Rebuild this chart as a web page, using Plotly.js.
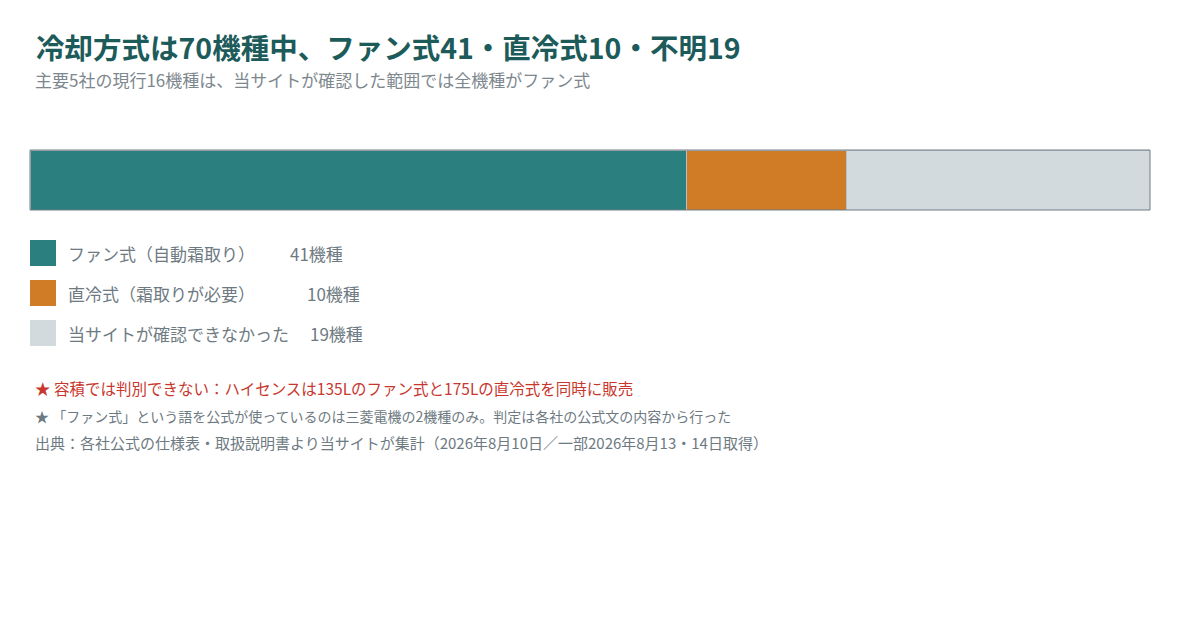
<!DOCTYPE html>
<html>
<head>
<meta charset="utf-8">
<script src="https://cdn.plot.ly/plotly-3.0.1.min.js"></script>
<style>
  html, body { margin: 0; padding: 0; background: #fff; }
  #chart { width: 1180px; height: 620px; }
</style>
</head>
<body>
<div id="chart"></div>
<script>
let categories = ["ファン式（自動霜取り）", "直冷式（霜取りが必要）", "当サイトが確認できなかった"];
let counts = [41, 10, 19];
let colors = ["#2b7f7e", "#d07b26", "#d2dadd"];
let count_x = [288, 305, 308]; // px where the count label starts in each legend row

let W = 1180, H = 620;
let FONT = "Noto Sans CJK JP, Noto Sans, sans-serif";
let GREY = "#6e7a82";

function px(x) { return x / W; }
function py(y) { return 1 - y / H; }

let total = counts.reduce(function (a, b) { return a + b; }, 0);

let data = categories.map(function (c, i) {
    return {
        type: "bar",
        orientation: "h",
        y: ["all"],
        x: [counts[i]],
        name: c,
        marker: { color: colors[i], line: { color: "#b9c1c5", width: 1 } },
        hoverinfo: "skip",
        showlegend: false
    };
});

let annotations = [
    { text: "冷却方式は" + total + "機種中、ファン式" + counts[0] + "・直冷式" + counts[1] + "・不明" + counts[2],
      x: px(34), y: py(46), font: { size: 28.5, color: "#1d5b5a", family: FONT, weight: 700 } },
    { text: "主要5社の現行16機種は、当サイトが確認した範囲では全機種がファン式",
      x: px(33), y: py(79), font: { size: 17, color: "#7d878e", family: FONT } },
    { text: "★ 容積では判別できない：ハイセンスは135Lのファン式と175Lの直冷式を同時に販売",
      x: px(33), y: py(388), font: { size: 15.5, color: "#c8372d", family: FONT } },
    { text: "★ 「ファン式」という語を公式が使っているのは三菱電機の2機種のみ。判定は各社の公式文の内容から行った",
      x: px(33), y: py(416), font: { size: 14, color: GREY, family: FONT } },
    { text: "出典：各社公式の仕様表・取扱説明書より当サイトが集計（2026年8月10日／一部2026年8月13・14日取得）",
      x: px(33), y: py(442), font: { size: 15, color: GREY, family: FONT } }
];

let shapes = [
    { type: "rect", xref: "paper", yref: "paper", x0: px(30), x1: px(1150), y0: py(210), y1: py(150),
      line: { color: "#6f7f86", width: 1 }, fillcolor: "rgba(0,0,0,0)" }
];

categories.forEach(function (c, i) {
    let cy = 253 + i * 40;
    shapes.push({ type: "rect", xref: "paper", yref: "paper",
        x0: px(30), x1: px(56), y0: py(cy + 13), y1: py(cy - 13),
        fillcolor: colors[i], line: { width: 0 } });
    annotations.push({ text: c, x: px(66), y: py(cy), font: { size: 17, color: GREY, family: FONT } });
    annotations.push({ text: counts[i] + "機種", x: px(count_x[i]), y: py(cy), font: { size: 17, color: GREY, family: FONT } });
});

annotations.forEach(function (a) {
    a.xref = "paper"; a.yref = "paper";
    a.xanchor = "left"; a.yanchor = "middle";
    a.showarrow = false;
});

let layout = {
    width: W, height: H,
    margin: { l: 0, r: 0, t: 0, b: 0 },
    paper_bgcolor: "#ffffff",
    plot_bgcolor: "#ffffff",
    barmode: "stack",
    bargap: 0,
    showlegend: false,
    xaxis: { domain: [px(30), px(1150)], range: [0, total], visible: false, fixedrange: true },
    yaxis: { domain: [py(210), py(150)], range: [-0.5, 0.5], visible: false, fixedrange: true },
    shapes: shapes,
    annotations: annotations
};

Plotly.newPlot("chart", data, layout, { displayModeBar: false, staticPlot: true });
</script>
</body>
</html>
